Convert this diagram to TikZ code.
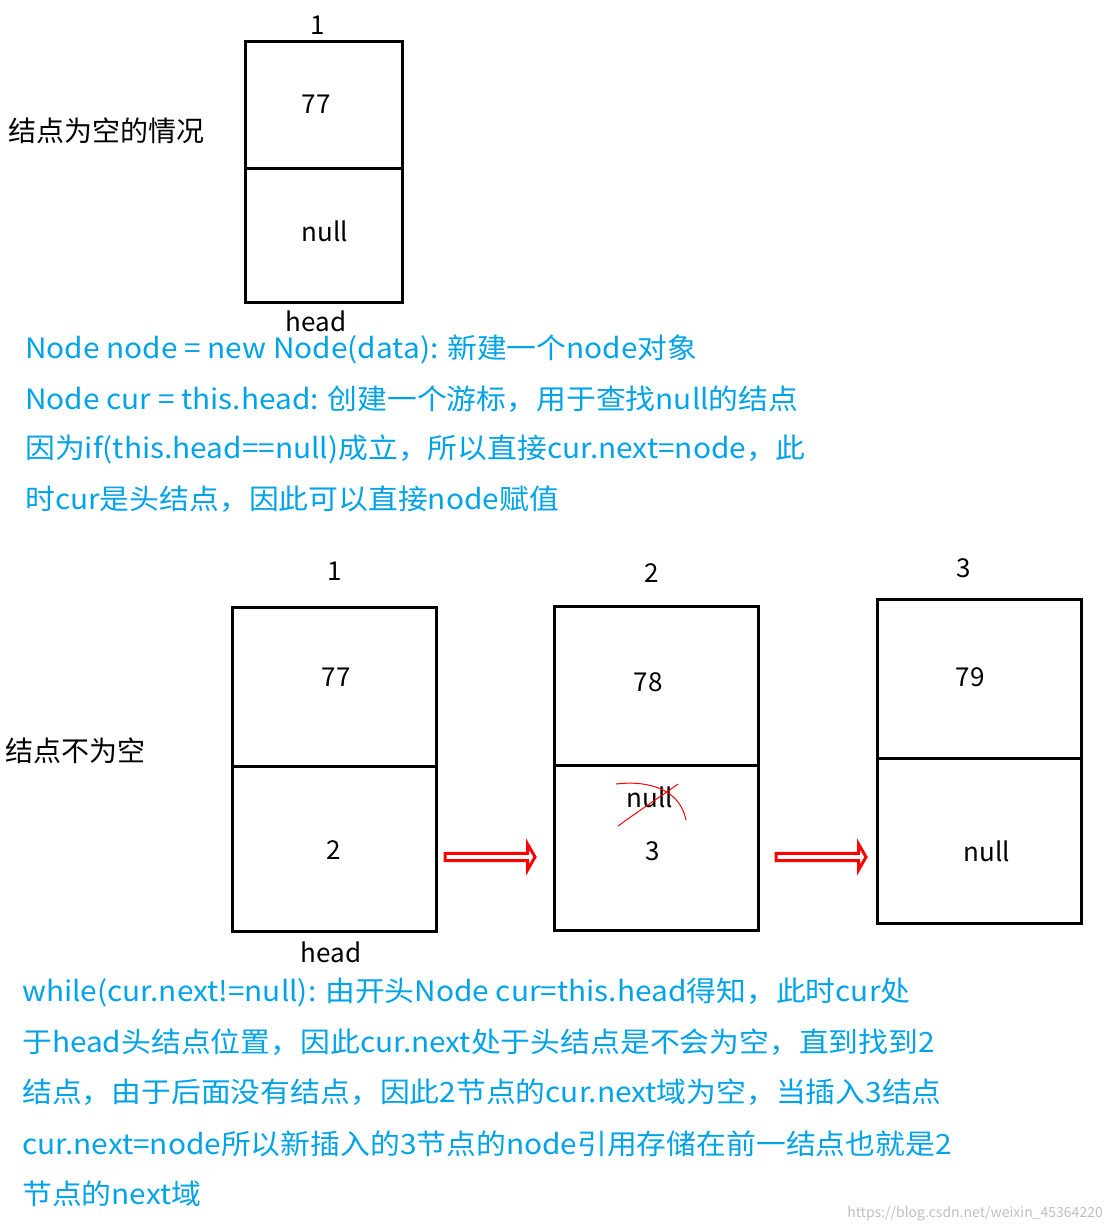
\documentclass[tikz,border=0pt]{standalone}
\usepackage{fontspec}
\setmainfont{Noto Sans CJK SC}
\usetikzlibrary{shapes.arrows}
\definecolor{bl}{RGB}{0,162,232}
\begin{document}
\begin{tikzpicture}[x=1pt,y=-1pt,
 box/.style={draw,line width=3pt},
 lab/.style={font=\fontsize{26}{30}\selectfont,inner sep=0pt},
 txt/.style={font=\fontsize{28}{32}\selectfont,text=bl,anchor=west,inner sep=0pt,xscale=1.065},
 blk/.style={single arrow,draw=red,line width=3pt,fill=white,minimum height=90pt,minimum width=26pt,single arrow head extend=4pt,inner sep=0pt,single arrow tip angle=120}]
\useasboundingbox (0,0) rectangle (1112,1232);
\draw[box] (245,41) rectangle (402,302); \draw[box] (245,168) -- (402,168);
\node[lab] (t1) at (318,25) {1};
\node[lab] (t77) at (316,104) {77};
\node[lab] (tnull) at (325,231) {null};
\node[lab] (thead) at (316,321) {head};
\node[lab,anchor=west,font=\fontsize{28}{32}\selectfont] (tl) at (8,131) {结点为空的情况};
\node[txt] (a1) at (25,349) {Node node = new Node(data): 新建一个node对象};
\node[txt] (a2) at (25,399) {Node cur = this.head: 创建一个游标，用于查找null的结点};
\node[txt] (a3) at (25,449) {因为if(this.head==null)成立，所以直接cur.next=node，此};
\node[txt] (a4) at (25,499) {时cur是头结点，因此可以直接node赋值};
\draw[box] (232,607) rectangle (436,931); \draw[box] (232,766) -- (436,766);
\draw[box] (554,606) rectangle (758,930); \draw[box] (554,765) -- (758,765);
\draw[box] (877,599) rectangle (1081,923); \draw[box] (877,758) -- (1081,758);
\node[lab] (b1) at (335,571) {1};
\node[lab] (b77) at (336,677) {77};
\node[lab] (b2) at (334,850) {2};
\node[lab] (bh) at (331,952) {head};
\node[lab] (c2) at (652,573) {2};
\node[lab] (c78) at (648,682) {78};
\node[lab] (cn) at (650,797) {null};
\node[lab] (c3) at (653,851) {3};
\node[lab] (d3) at (964,568) {3};
\node[lab] (d79) at (970,677) {79};
\node[lab] (dn) at (987,851) {null};
\node[lab,anchor=west,font=\fontsize{28}{32}\selectfont] (bl) at (5,751) {结点不为空};
\draw[red,line width=1pt] (616,784) .. controls (650,780) and (680,790) .. (686,820);
\draw[red,line width=1pt] (618,826) .. controls (640,810) and (670,790) .. (678,784);
\node[blk] (ar1) at (489,857) {};
\node[blk] (ar2) at (820,857) {};
\node[txt] (e1) at (22,992) {while(cur.next!=null): 由开头Node cur=this.head得知，此时cur处};
\node[txt] (e2) at (22,1042) {于head头结点位置，因此cur.next处于头结点是不会为空，直到找到2};
\node[txt] (e3) at (22,1092) {结点，由于后面没有结点，因此2节点的cur.next域为空，当插入3结点};
\node[txt] (e4) at (22,1144) {cur.next=node所以新插入的3节点的node引用存储在前一结点也就是2};
\node[txt] (e5) at (22,1194) {节点的next域};
\node[font=\fontsize{14}{16}\selectfont,text=black!25,anchor=east,inner sep=0pt] (wm) at (1103,1214) {https://blog.csdn.net/weixin\_45364220};
\end{tikzpicture}
\end{document}
